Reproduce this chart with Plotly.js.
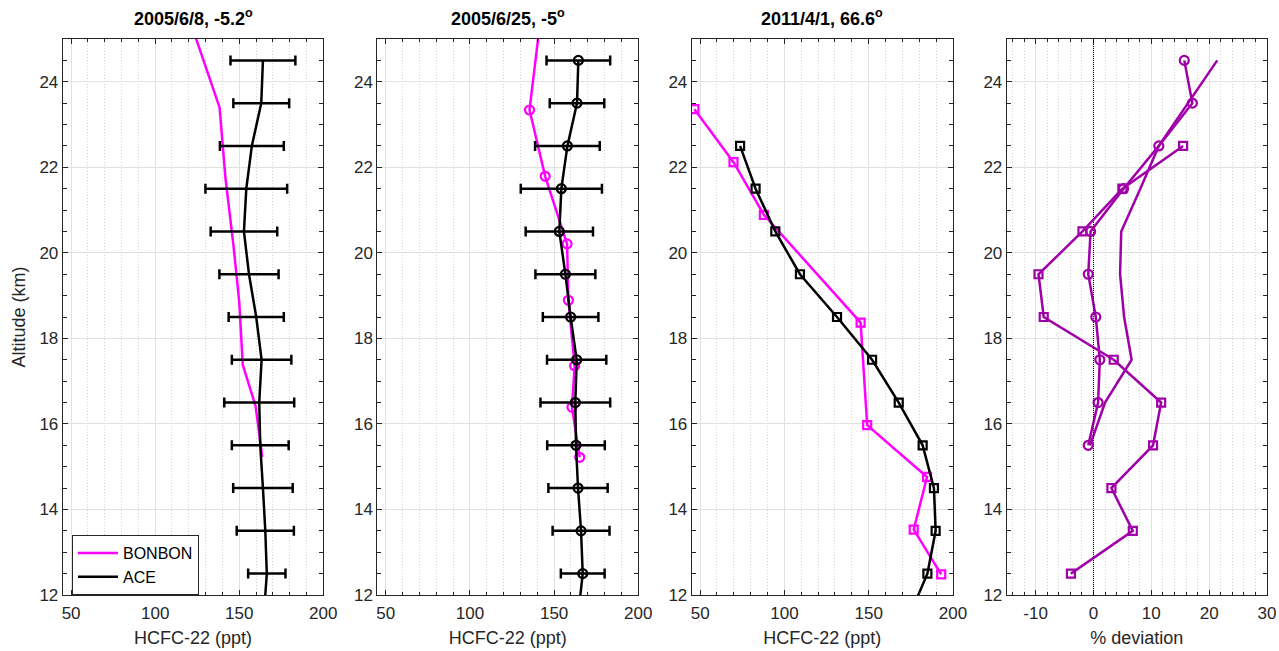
<!DOCTYPE html>
<html>
<head>
<meta charset="utf-8">
<script src="https://cdn.plot.ly/plotly-3.0.1.min.js"></script>
<style>html,body{margin:0;padding:0;background:#fff;}#chart{width:1279px;height:651px;}</style>
</head>
<body>
<div id="chart"></div>
<script>
// ---------- data ----------
const panelTitles = ["2005/6/8, -5.2<sup>o</sup>", "2005/6/25, -5<sup>o</sup>", "2011/4/1, 66.6<sup>o</sup>"];

// ACE altitudes (km)
const aceAlt = [24.5, 23.5, 22.5, 21.5, 20.5, 19.5, 18.5, 17.5, 16.5, 15.5, 14.5, 13.5, 12.5, 11.5];

// Panel 1 (2005/6/8)
const p1Ace    = [164.1, 163.1, 157.5, 154.2, 152.8, 155.8, 160.1, 163.3, 161.9, 162.5, 164.1, 165.5, 166.4, 164.6];
const p1AceErr = [19.3, 16.6, 19.0, 24.3, 19.8, 17.6, 16.4, 17.7, 20.8, 16.9, 17.7, 17.0, 11.1, 11.1];
const p1BonAlt = [25.3, 23.4, 21.75, 20.2, 18.85, 17.38, 16.42, 15.23];
const p1Bon    = [121.8, 138.3, 141.8, 146.5, 150.0, 152.1, 159.7, 163.7];

// Panel 2 (2005/6/25)
const p2Ace    = [164.4, 163.6, 157.9, 154.3, 153.1, 156.7, 159.8, 163.4, 162.6, 163.0, 164.2, 166.0, 167.0, 164.2];
const p2AceErr = [18.9, 16.2, 19.2, 24.1, 20.0, 17.8, 16.5, 17.6, 20.7, 17.1, 17.6, 16.9, 13.0, 13.0];
const p2BonAlt = [25.5, 23.34, 21.79, 20.21, 18.89, 17.36, 16.39, 15.22];
const p2Bon    = [142.0, 135.4, 144.7, 157.7, 158.5, 162.2, 160.6, 165.2];

// Panel 3 (2011/4/1)
const p3AceAlt = [22.5, 21.5, 20.5, 19.5, 18.5, 17.5, 16.5, 15.5, 14.5, 13.5, 12.5, 11.5];
const p3Ace    = [73.7, 82.9, 94.6, 109.2, 131.2, 152.0, 167.8, 182.0, 188.7, 189.7, 184.8, 174.0];
const p3BonAlt = [23.36, 22.12, 20.89, 18.37, 15.97, 14.76, 13.53, 12.48];
const p3Bon    = [46.6, 69.8, 87.8, 145.2, 149.1, 184.6, 176.7, 193.0];

// Panel 4 (% deviation)
const dev1Alt = [24.5, 23.5, 22.5, 21.5, 20.5, 19.5, 18.5, 17.5, 16.5, 15.5];
const dev1    = [21.4, 16.3, 11.3, 8.1, 4.8, 4.6, 5.3, 6.6, 2.0, -0.6];
const dev2Alt = [24.5, 23.5, 22.5, 21.5, 20.5, 19.5, 18.5, 17.5, 16.5, 15.5];
const dev2    = [15.7, 17.1, 11.3, 5.2, -0.5, -0.9, 0.4, 1.1, 0.8, -0.9];
const dev3Alt = [22.5, 21.5, 20.5, 19.5, 18.5, 17.5, 16.5, 15.5, 14.5, 13.5, 12.5];
const dev3    = [15.5, 5.0, -1.9, -9.5, -8.6, 3.5, 11.7, 10.3, 3.1, 6.8, -3.9];
const devTickVals = [-10, 0, 10, 20, 30];
const devTickText = ['-10', '0', '10', '20', '30'];

// ---------- styling ----------
const FONT = 'Liberation Sans, Arial, Helvetica, sans-serif';
const MAG = '#FF00FF';
const PUR = '#A000A8';
const AX = '#262626';
const LW = 2.5;

const traces = [];
// Panel 1
traces.push({x: p1Bon, y: p1BonAlt, xaxis: 'x', yaxis: 'y', mode: 'lines', name: 'BONBON',
  line: {color: MAG, width: LW}, showlegend: true});
traces.push({x: p1Ace, y: aceAlt, xaxis: 'x', yaxis: 'y', mode: 'lines', name: 'ACE',
  line: {color: '#000', width: LW}, showlegend: true,
  error_x: {type: 'data', array: p1AceErr, symmetric: true, color: '#000', thickness: 2.5, width: 5}});
// Panel 2
traces.push({x: p2Bon, y: p2BonAlt, xaxis: 'x2', yaxis: 'y2', mode: 'lines+markers', showlegend: false,
  line: {color: MAG, width: LW}, marker: {symbol: 'circle-open', size: 9, color: MAG, line: {width: 2.2, color: MAG}}});
traces.push({x: p2Ace, y: aceAlt, xaxis: 'x2', yaxis: 'y2', mode: 'lines+markers', showlegend: false,
  line: {color: '#000', width: LW}, marker: {symbol: 'circle-open', size: 9, color: '#000', line: {width: 2.2, color: '#000'}},
  error_x: {type: 'data', array: p2AceErr, symmetric: true, color: '#000', thickness: 2.5, width: 5}});
// Panel 3
traces.push({x: p3Bon, y: p3BonAlt, xaxis: 'x3', yaxis: 'y3', mode: 'lines+markers', showlegend: false,
  line: {color: MAG, width: LW}, marker: {symbol: 'square-open', size: 8, color: MAG, line: {width: 2.2, color: MAG}}});
traces.push({x: p3Ace, y: p3AceAlt, xaxis: 'x3', yaxis: 'y3', mode: 'lines+markers', showlegend: false,
  line: {color: '#000', width: LW}, marker: {symbol: 'square-open', size: 8, color: '#000', line: {width: 2.2, color: '#000'}}});
// Panel 4
traces.push({x: dev1, y: dev1Alt, xaxis: 'x4', yaxis: 'y4', mode: 'lines', showlegend: false,
  line: {color: PUR, width: LW}});
traces.push({x: dev2, y: dev2Alt, xaxis: 'x4', yaxis: 'y4', mode: 'lines+markers', showlegend: false,
  line: {color: PUR, width: LW}, marker: {symbol: 'circle-open', size: 9, color: PUR, line: {width: 2.2, color: PUR}}});
traces.push({x: dev3, y: dev3Alt, xaxis: 'x4', yaxis: 'y4', mode: 'lines+markers', showlegend: false,
  line: {color: PUR, width: LW}, marker: {symbol: 'square-open', size: 8, color: PUR, line: {width: 2.2, color: PUR}}});

const domains = [[62.7, 323.3], [377.3, 638.3], [691.7, 953.0], [1006.7, 1267.0]].map(d => [d[0] / 1279, d[1] / 1279]);
const yDom = [(651 - 595) / 651, (651 - 39) / 651];

function xAxis(i, range, dtick, minorDtick, title) {
  return {
    domain: domains[i], anchor: i === 0 ? 'y' : 'y' + (i + 1), range: range,
    tick0: 0, dtick: dtick, ticks: 'inside', ticklen: 5, tickcolor: AX, tickwidth: 1,
    showline: true, linecolor: AX, linewidth: 1, mirror: 'allticks',
    showgrid: true, gridcolor: '#e1e1e1', gridwidth: 1, zeroline: false,
    minor: {dtick: minorDtick, tick0: 0, ticks: 'inside', ticklen: 3, tickcolor: AX,
            showgrid: true, gridcolor: '#d6d6d6', griddash: '1px,2px', gridwidth: 1},
    tickfont: {family: FONT, size: 17, color: AX}, ticklabelstandoff: 3,
    title: {text: title, font: {family: FONT, size: 18, color: AX}, standoff: 8},
    fixedrange: true
  };
}
function yAxis(i, title) {
  const ax = {
    domain: yDom, anchor: i === 0 ? 'x' : 'x' + (i + 1), range: [12, 25],
    tick0: 0, dtick: 2, ticks: 'inside', ticklen: 5, tickcolor: AX, tickwidth: 1,
    showline: true, linecolor: AX, linewidth: 1, mirror: 'allticks',
    showgrid: true, gridcolor: '#e1e1e1', gridwidth: 1, zeroline: false,
    minor: {dtick: 0.5, tick0: 0, ticks: 'inside', ticklen: 4, tickcolor: AX, showgrid: false},
    tickfont: {family: FONT, size: 17, color: AX},
    fixedrange: true
  };
  if (title) ax.title = {text: title, font: {family: FONT, size: 18, color: AX}, standoff: 9};
  return ax;
}

const xaxis4 = xAxis(3, [-15, 30], 10, 2, '% deviation');
xaxis4.tickmode = 'array';
xaxis4.tickvals = devTickVals;
xaxis4.ticktext = devTickText;

const layout = {
  width: 1279, height: 651,
  margin: {l: 0, r: 0, t: 0, b: 0},
  paper_bgcolor: '#fff', plot_bgcolor: '#fff',
  font: {family: FONT, color: AX},
  xaxis: xAxis(0, [45, 200], 50, 10, 'HCFC-22 (ppt)'),
  xaxis2: xAxis(1, [45, 200], 50, 10, 'HCFC-22 (ppt)'),
  xaxis3: xAxis(2, [45, 200], 50, 10, 'HCFC-22 (ppt)'),
  xaxis4: xaxis4,
  yaxis: yAxis(0, 'Altitude (km)'),
  yaxis2: yAxis(1), yaxis3: yAxis(2), yaxis4: yAxis(3),
  showlegend: true,
  legend: {x: 72 / 1279, y: (651 - 535) / 651, xanchor: 'left', yanchor: 'top',
    bgcolor: '#fff', bordercolor: AX, borderwidth: 1, itemwidth: 40,
    font: {family: FONT, size: 16, color: '#000'}, tracegroupgap: 0},
  shapes: [{type: 'line', xref: 'x4', yref: 'y4 domain', x0: 0, x1: 0, y0: 0, y1: 1,
    line: {color: '#000', width: 1, dash: '1px,1px'}}],
  annotations: panelTitles.map((t, i) => ({
    text: '<b>' + t + '</b>', xref: 'paper', yref: 'paper',
    x: (domains[i][0] + domains[i][1]) / 2, y: 1 - 18 / 651, xanchor: 'center', yanchor: 'middle',
    showarrow: false, font: {family: FONT, size: 18, color: '#000'}
  }))
};

Plotly.newPlot('chart', traces, layout, {displayModeBar: false, staticPlot: true});
</script>
</body>
</html>
